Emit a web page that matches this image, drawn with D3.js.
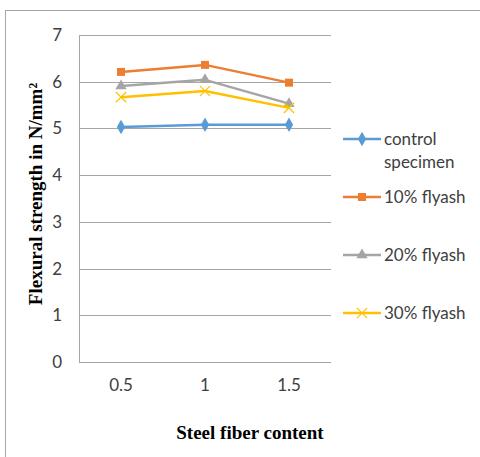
<!DOCTYPE html>
<html>
<head>
<meta charset="utf-8">
<script src="https://cdn.jsdelivr.net/npm/d3@7"></script>
<style>
  body { margin: 0; background: #fff; }
  svg { display: block; }
</style>
</head>
<body>
<div id="chart"></div>
<script>
// data
const fiberContent = ['0.5', '1', '1.5'];
const controlSpecimen = [5.03, 5.08, 5.08];
const flyash10 = [6.21, 6.36, 5.98];
const flyash20 = [5.91, 6.04, 5.53];
const flyash30 = [5.67, 5.80, 5.44];
const yTicks = [0, 1, 2, 3, 4, 5, 6, 7];

const series = [
  { name: ['control', 'specimen'], values: controlSpecimen, color: '#5B9BD5', symbol: d3.symbolDiamond, size: 60 },
  { name: ['10% flyash'], values: flyash10, color: '#ED7D31', symbol: d3.symbolSquare, size: 64 },
  { name: ['20% flyash'], values: flyash20, color: '#A5A5A5', symbol: d3.symbolTriangle, size: 55 },
  { name: ['30% flyash'], values: flyash30, color: '#FFC000', symbol: d3.symbolX, size: 70 }
];

const width = 480, height = 457;
const margin = { top: 35, left: 79, right: 149, bottom: 95 };
const labelFont = 'Lato, "Open Sans", sans-serif';
const titleFont = '"Liberation Serif", "Times New Roman", serif';

const svg = d3.select('#chart').append('svg')
  .attr('width', width)
  .attr('height', height);

// outer frame
svg.append('rect')
  .attr('x', 5.5).attr('y', 10.5)
  .attr('width', 480).attr('height', 460)
  .attr('fill', 'none')
  .attr('stroke', '#a6a6a6');

const x = d3.scaleBand()
  .domain(fiberContent)
  .range([margin.left, width - margin.right]);

const y = d3.scaleLinear()
  .domain([0, 7])
  .range([height - margin.bottom, margin.top]);

// gridlines
svg.append('g')
  .selectAll('line')
  .data(yTicks)
  .join('line')
  .attr('x1', margin.left)
  .attr('x2', width - margin.right)
  .attr('y1', d => Math.round(y(d)) + 0.5)
  .attr('y2', d => Math.round(y(d)) + 0.5)
  .attr('stroke', '#a6a6a6')
  .attr('stroke-width', 1);

svg.append('line')
  .attr('x1', margin.left + 0.5).attr('x2', margin.left + 0.5)
  .attr('y1', y(7)).attr('y2', y(0))
  .attr('stroke', '#a6a6a6');

// y tick labels
const yAxis = svg.append('g')
  .attr('transform', `translate(${margin.left},0)`)
  .call(d3.axisLeft(y).tickValues(yTicks).tickFormat(d3.format('d')).tickSize(0).tickPadding(17));
yAxis.select('.domain').remove();
yAxis.selectAll('text')
  .attr('font-family', labelFont)
  .attr('font-size', 17)
  .attr('fill', '#404040');

// x tick labels
const xAxis = svg.append('g')
  .attr('transform', `translate(0,${y(0)})`)
  .call(d3.axisBottom(x).tickSize(0).tickPadding(17));
xAxis.select('.domain').remove();
xAxis.selectAll('text')
  .attr('font-family', labelFont)
  .attr('font-size', 17)
  .attr('fill', '#404040');

// lines and markers
const line = d3.line()
  .x((d, i) => x(fiberContent[i]) + x.bandwidth() / 2)
  .y(d => y(d));

series.forEach(s => {
  svg.append('path')
    .datum(s.values)
    .attr('fill', 'none')
    .attr('stroke', s.color)
    .attr('stroke-width', 2.5)
    .attr('stroke-linejoin', 'round')
    .attr('d', line);

  svg.append('g')
    .selectAll('path')
    .data(s.values)
    .join('path')
    .attr('transform', (d, i) => `translate(${x(fiberContent[i]) + x.bandwidth() / 2},${y(d)})`)
    .attr('d', d3.symbol().type(s.symbol).size(s.size))
    .attr('fill', s.symbol === d3.symbolX ? 'none' : s.color)
    .attr('stroke', s.color)
    .attr('stroke-width', s.symbol === d3.symbolX ? 1.2 : 0);
});

// legend
const legendY = [139, 197, 255, 313];
series.forEach((s, i) => {
  const g = svg.append('g').attr('transform', `translate(343,${legendY[i]})`);
  g.append('line')
    .attr('x1', 0).attr('x2', 38)
    .attr('stroke', s.color).attr('stroke-width', 2.5);
  g.append('path')
    .attr('transform', 'translate(19,0)')
    .attr('d', d3.symbol().type(s.symbol).size(s.size))
    .attr('fill', s.symbol === d3.symbolX ? 'none' : s.color)
    .attr('stroke', s.color)
    .attr('stroke-width', s.symbol === d3.symbolX ? 1.2 : 0);
  const t = g.append('text')
    .attr('x', 41)
    .attr('y', 6)
    .attr('font-family', labelFont)
    .attr('font-size', 17)
    .attr('fill', '#404040');
  s.name.forEach((n, j) => {
    t.append('tspan').attr('x', 41).attr('dy', j === 0 ? 0 : 23).text(n);
  });
});

// axis titles
svg.append('text')
  .attr('x', 250)
  .attr('y', 439)
  .attr('text-anchor', 'middle')
  .attr('font-family', titleFont)
  .attr('font-weight', 'bold')
  .attr('font-size', 19)
  .attr('fill', '#000')
  .text('Steel fiber content');

svg.append('text')
  .attr('transform', 'translate(42,194) rotate(-90)')
  .attr('text-anchor', 'middle')
  .attr('font-family', titleFont)
  .attr('font-weight', 'bold')
  .attr('font-size', 19)
  .attr('fill', '#000')
  .text('Flexural strength in N/mm²');
</script>
</body>
</html>
